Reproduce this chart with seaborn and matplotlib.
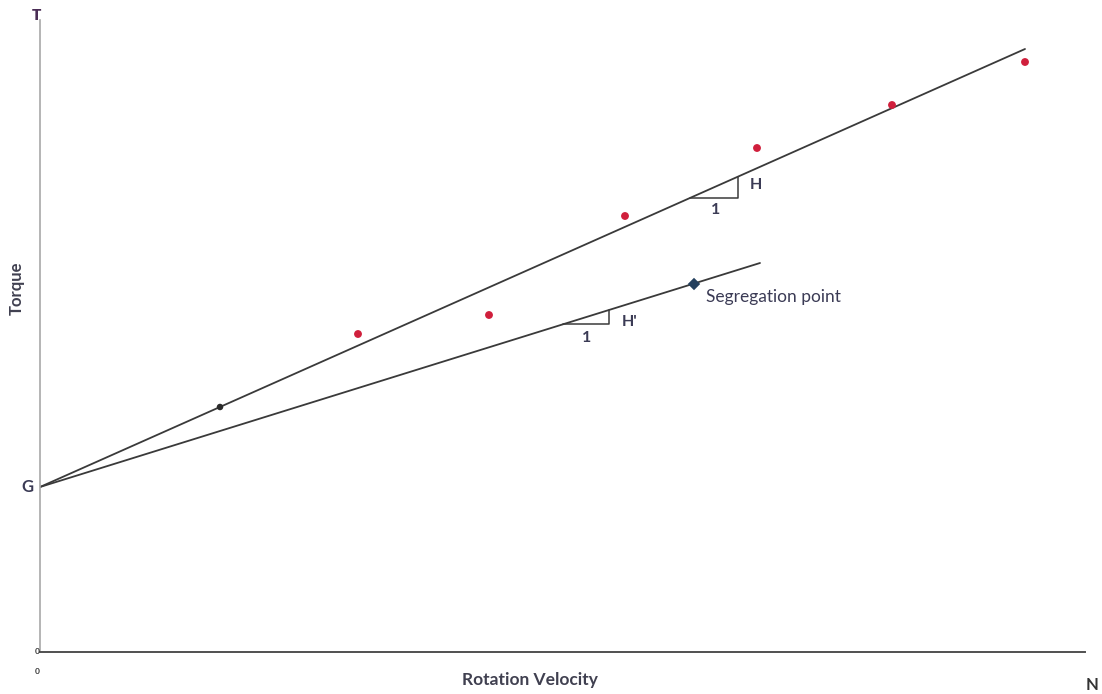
import matplotlib
matplotlib.use("Agg")
import matplotlib.pyplot as plt
import numpy as np
import pandas as pd
import seaborn as sns

# Intercept of both torque lines on the T axis
G = 1.65

# Fitted line through the measurements (slope H) and the lower line (slope H')
upper_x = [0.0, 9.85]
upper_y = [1.65, 6.03]
lower_x = [0.0, 7.20]
lower_y = [1.65, 3.89]

# Measured points
meas_x = [3.18, 4.49, 5.85, 7.17, 8.52, 9.85]
meas_y = [3.18, 3.37, 4.36, 5.04, 5.47, 5.90]

# Marked points on the lines
upper_mark_x = [1.80]
upper_mark_y = [2.45]
seg_x = [6.54]
seg_y = [3.68]

sns.set_theme(style="white")
plt.rcParams["font.family"] = ["Lato", "DejaVu Sans"]

fig = plt.figure(figsize=(11.02, 6.94), dpi=100)
ax = fig.add_axes([40 / 1102, 42 / 694, 1045 / 1102, 632 / 694])

line_col = "#3a3a3a"
text_col = "#3b3b55"

sns.lineplot(x=upper_x, y=upper_y, ax=ax, color=line_col, lw=1.3)
sns.lineplot(x=lower_x, y=lower_y, ax=ax, color=line_col, lw=1.3)

sns.scatterplot(x=meas_x, y=meas_y, ax=ax, color="#d01f3c", s=32,
                edgecolor="none", zorder=5)
sns.scatterplot(x=upper_mark_x, y=upper_mark_y, ax=ax, color="#2a2a2a", s=22,
                edgecolor="none", zorder=5)
sns.scatterplot(x=seg_x, y=seg_y, ax=ax, color="#24405e", s=40, marker="D",
                edgecolor="none", zorder=5)

# Slope triangles
def slope_triangle(x0, width, x_line, y_line):
    k = (y_line[1] - y_line[0]) / (x_line[1] - x_line[0])
    y0 = y_line[0] + k * x0
    y1 = y_line[0] + k * (x0 + width)
    ax.plot([x0, x0 + width, x0 + width], [y0, y0, y1], color=line_col, lw=1.1)
    return y0, y1

yH0, yH1 = slope_triangle(6.50, 0.48, upper_x, upper_y)
yh0, yh1 = slope_triangle(5.23, 0.46, lower_x, lower_y)

ax.text(7.10, (yH0 + yH1) / 2 + 0.02, "H", color=text_col, fontsize=11.5,
        fontweight="bold", ha="left", va="center")
ax.text(6.76, yH0 - 0.12, "1", color=text_col, fontsize=11.5,
        fontweight="bold", ha="center", va="center")
ax.text(5.82, yh0 + 0.02, "H'", color=text_col, fontsize=11.5,
        fontweight="bold", ha="left", va="center")
ax.text(5.47, yh0 - 0.14, "1", color=text_col, fontsize=11.5,
        fontweight="bold", ha="center", va="center")
ax.text(6.66, 3.55, "Segregation point", color=text_col, fontsize=12.5,
        ha="left", va="center")

ax.set_xlim(0, 10.45)
ax.set_ylim(0, 6.32)
ax.set_xticks([])
ax.set_yticks([])
for s in ["top", "right"]:
    ax.spines[s].set_visible(False)
ax.spines["left"].set_color("#a8a8a8")
ax.spines["left"].set_linewidth(1.2)
ax.spines["bottom"].set_color("#505050")
ax.spines["bottom"].set_linewidth(1.4)

# Axis annotations
ax.text(-0.04, 6.37, "T", color="#4a2d55", fontsize=11, fontweight="heavy",
        ha="center", va="center", clip_on=False)
ax.text(-0.13, G, "G", color=text_col, fontsize=12, fontweight="bold",
        ha="center", va="center", clip_on=False)
ax.text(-0.03, 0.01, "0", color="#333333", fontsize=6, fontweight="bold",
        ha="center", va="center", clip_on=False)
ax.text(-0.03, -0.20, "0", color="#333333", fontsize=6, fontweight="bold",
        ha="center", va="center", clip_on=False)
ax.text(10.52, -0.33, "N", color="#333333", fontsize=12, fontweight="bold",
        ha="center", va="center", clip_on=False)
ax.text(4.90, -0.28, "Rotation Velocity", color="#404050", fontsize=12.5,
        fontweight="bold", ha="center", va="center", clip_on=False)
ax.text(-0.23, 3.64, "Torque", color="#404050", fontsize=12,
        fontweight="bold", rotation=90, ha="center", va="center", clip_on=False)

fig.savefig("out.png", dpi=100, facecolor="white")
